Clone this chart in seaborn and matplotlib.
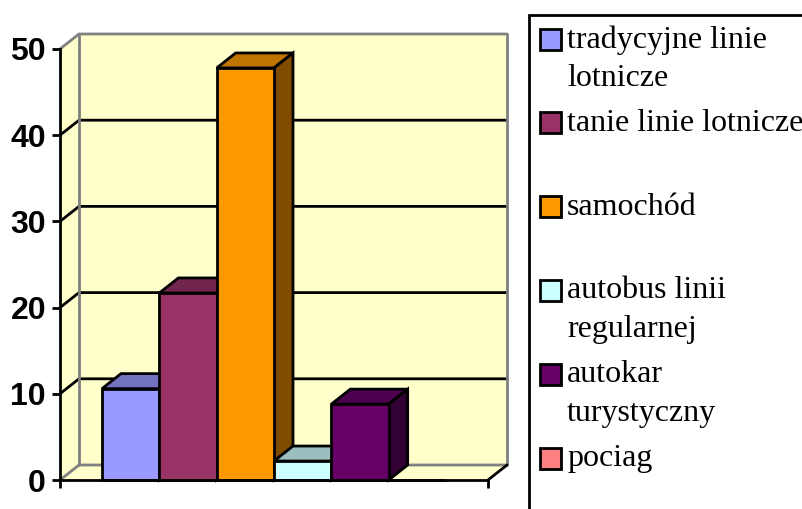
import matplotlib
matplotlib.use("Agg")
import matplotlib.pyplot as plt
from matplotlib.patches import Polygon, Rectangle
import pandas as pd
import seaborn as sns

names = ["tradycyjne linie\nlotnicze", "tanie linie lotnicze", "samochód",
         "autobus linii\nregularnej", "autokar\nturystyczny", "pociag"]
values = [10.6, 21.7, 47.8, 2.2, 8.8, 0.0]
colors = ["#9999FF", "#993366", "#FF9900", "#CCFFFF", "#660066", "#FF8080"]
y_ticks = [0, 10, 20, 30, 40, 50]

W, H = 802, 509
sns.set_style("white")
fig = plt.figure(figsize=(W / 100, H / 100), dpi=100)
L, R, B, T = 60, 488, 480, 49
ax = fig.add_axes([L / W, 1 - B / H, (R - L) / W, (B - T) / H])
ax.set_facecolor("none")

lw = 2.0
df = pd.DataFrame({"srodek": names, "procent": values})
sns.barplot(data=df, x="srodek", y="procent", hue="srodek", order=names, hue_order=names,
            palette=colors, width=1, saturation=1, edgecolor="black", linewidth=lw,
            legend=False, ax=ax)

margin = 42 / 57.3
x0, x1 = -0.5 - margin, len(names) - 0.5 + margin
ax.set_xlim(x0, x1)
ax.set_ylim(0, 50)

# depth of the pseudo-3D box, converted from pixels to data units
dx = 19 * (x1 - x0) / (R - L)
dy = 15 * 50 / (B - T)

gray = "#808080"
wall = "#FFFFCC"
ymax = y_ticks[-1]
ax.add_patch(Polygon([(x0 + dx, dy), (x1 + dx, dy), (x1 + dx, ymax + dy), (x0 + dx, ymax + dy)],
                     fc=wall, ec="none", zorder=0.1, clip_on=False))
ax.add_patch(Polygon([(x0, 0), (x0 + dx, dy), (x0 + dx, ymax + dy), (x0, ymax)],
                     fc=wall, ec="none", zorder=0.1, clip_on=False))
ax.add_patch(Polygon([(x0, 0), (x1, 0), (x1 + dx, dy), (x0 + dx, dy)],
                     fc=wall, ec="none", zorder=0.1, clip_on=False))
for v in y_ticks:
    c = gray if v in (0, ymax) else "black"
    ax.plot([x0, x0 + dx, x1 + dx], [v, v + dy, v + dy], color=c, lw=lw, zorder=0.5,
            clip_on=False, solid_joinstyle="miter")
ax.plot([x0 + dx] * 2, [dy, ymax + dy], color=gray, lw=lw, zorder=0.6, clip_on=False)
ax.plot([x1 + dx] * 2, [dy, ymax + dy], color=gray, lw=lw, zorder=0.6, clip_on=False)
ax.plot([x1, x1 + dx], [0, dy], color="black", lw=lw, zorder=0.6, clip_on=False)


def shade(hex_color, f):
    r, g, b = matplotlib.colors.to_rgb(hex_color)
    return (r * f, g * f, b * f)


for i, (p, v, c) in enumerate(zip(ax.patches[:len(names)], values, colors)):
    left, right = p.get_x(), p.get_x() + p.get_width()
    p.set_zorder(3 + i + 0.5)
    p.set_clip_on(False)
    if v <= 0:
        continue
    ax.add_patch(Polygon([(left, v), (right, v), (right + dx, v + dy), (left + dx, v + dy)],
                         fc=shade(c, 0.75), ec="black", lw=lw, zorder=3 + i,
                         clip_on=False, joinstyle="miter"))
    ax.add_patch(Polygon([(right, 0), (right + dx, dy), (right + dx, v + dy), (right, v)],
                         fc=shade(c, 0.5), ec="black", lw=lw, zorder=3 + i,
                         clip_on=False, joinstyle="miter"))

for s in ("top", "right"):
    ax.spines[s].set_visible(False)
for s in ("left", "bottom"):
    ax.spines[s].set_color("black")
    ax.spines[s].set_linewidth(lw)
    ax.spines[s].set_zorder(20)

ax.set_xlabel("")
ax.set_ylabel("")
ax.set_xticks([x0, x1])
ax.set_xticklabels(["", ""])
ax.set_yticks(y_ticks)
ax.tick_params(axis="both", direction="out", length=5.5, width=lw, color="black", left=True, bottom=True)
ax.tick_params(axis="y", pad=4.5)
for t in ax.get_yticklabels():
    t.set_fontfamily("Liberation Sans")
    t.set_fontweight("bold")
    t.set_fontsize(23)
    t.set_color("black")

# legend panel, drawn in pixel coordinates
ov = fig.add_axes([0, 0, 1, 1], zorder=30)
ov.set_xlim(0, W)
ov.set_ylim(H, 0)
ov.axis("off")
ov.patch.set_alpha(0)
ov.add_patch(Rectangle((529, 14.5), 300, 520, fc="white", ec="black", lw=lw))
for i, (n, c) in enumerate(zip(names, colors)):
    yc = 39 + i * 83.8
    ov.add_patch(Rectangle((539.5, yc - 10.5), 21, 21, fc=c, ec="black", lw=lw))
    ov.text(567, yc - 14, n, family="Liberation Serif", fontsize=23, color="black",
            va="top", ha="left", linespacing=1.45)

fig.savefig("out.png", dpi=100)
